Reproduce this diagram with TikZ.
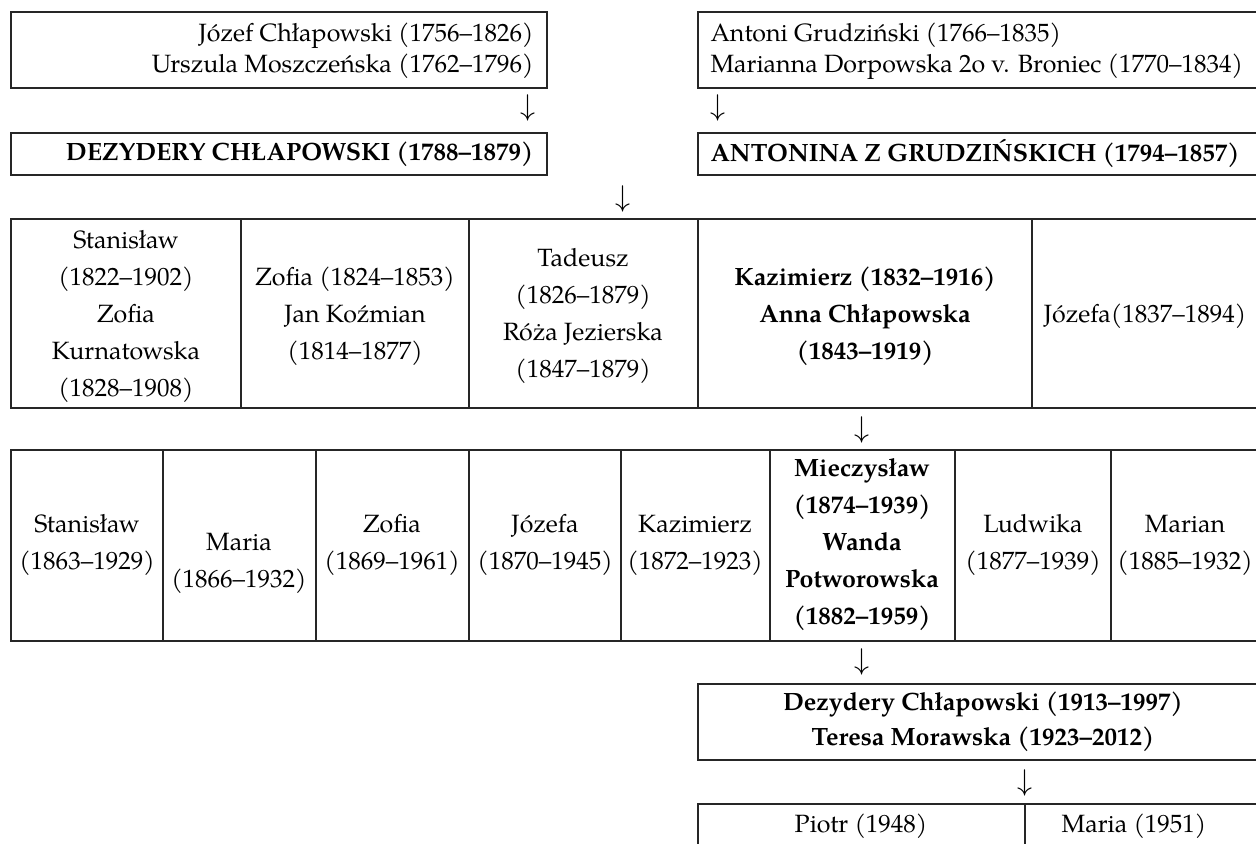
\documentclass[tikz,border=0pt]{standalone}
\usepackage{fontspec}
\setmainfont{texgyrepagella}[Extension=.otf, UprightFont=*-regular, BoldFont=*-bold, ItalicFont=*-italic, BoldItalicFont=*-bolditalic]

\tikzset{
  frame/.style={line width=0.7pt, draw=black!85},
  person/.style={inner sep=0pt, align=center, font=\fontsize{10}{14.8}\selectfont},
  heir/.style={person, font=\fontsize{10}{14.8}\selectfont\bfseries},
  parents/.style={inner sep=0pt, font=\fontsize{10}{12.4}\selectfont},
  down/.style={inner sep=0pt, font=\fontsize{12.5}{12.5}\selectfont}
}

\begin{document}
\begin{tikzpicture}[x=0.4pt,y=-0.4pt]
\useasboundingbox (0,0) rectangle (1256,844);

% grandparents
\draw[frame] (11,12) rectangle (547,88);
\node[parents, align=right, anchor=east] (jozef) at (534,51) {Józef Chłapowski (1756–1826)\\Urszula Moszczeńska (1762–1796)};
\draw[frame] (698,12) rectangle (1258,88);
\node[parents, align=left, anchor=west] (antoni) at (710,51) {Antoni Grudziński (1766–1835)\\Marianna Dorpowska 2o v. Broniec (1770–1834)};

\node[down] (d1) at (528,108) {$\downarrow$};
\node[down] (d2) at (718,108) {$\downarrow$};

% the couple
\draw[frame] (11,133) rectangle (547,175);
\node[parents, font=\fontsize{10}{12.4}\selectfont\bfseries, anchor=east] (dezydery) at (534,154) {DEZYDERY CHŁAPOWSKI (1788–1879)};
\draw[frame] (698,133) rectangle (1258,175);
\node[parents, font=\fontsize{10}{12.4}\selectfont\bfseries, anchor=west] (antonina) at (710,154) {ANTONINA Z GRUDZIŃSKICH (1794–1857)};

\node[down] (d3) at (623,199) {$\downarrow$};

% children
\draw[frame] (11,219) rectangle (1258,408);
\foreach \x in {241,469,698,1032}
  \draw[frame] (\x,219) -- (\x,408);
\node[person] (stanislaw) at (126,316) {Stanisław\\(1822–1902)\\Zofia\\Kurnatowska\\(1828–1908)};
\node[person] (zofia) at (355,316) {Zofia (1824–1853)\\Jan Koźmian\\(1814–1877)};
\node[person] (tadeusz) at (583,316) {Tadeusz\\(1826–1879)\\Róża Jezierska\\(1847–1879)};
\node[heir] (kazimierz) at (865,316) {Kazimierz (1832–1916)\\Anna Chłapowska\\(1843–1919)};
\node[person] (jozefa) at (1145,316) {Józefa(1837–1894)};

\node[down] (d4) at (862,430) {$\downarrow$};

% grandchildren
\draw[frame] (11,450) rectangle (1258,641);
\foreach \x in {163,316,469,621,770,955,1111}
  \draw[frame] (\x,450) -- (\x,641);
\node[person] (stanislaw2) at (87,545) {Stanisław\\(1863–1929)};
\node[person] (maria) at (239,563) {Maria\\(1866–1932)};
\node[person] (zofia2) at (392,545) {Zofia\\(1869–1961)};
\node[person] (jozefa2) at (545,545) {Józefa\\(1870–1945)};
\node[person] (kazimierz2) at (695,545) {Kazimierz\\(1872–1923)};
\node[heir] (mieczyslaw) at (862,545) {Mieczysław\\(1874–1939)\\Wanda\\Potworowska\\(1882–1959)};
\node[person] (ludwika) at (1033,545) {Ludwika\\(1877–1939)};
\node[person] (marian) at (1185,545) {Marian\\(1885–1932)};

\node[down] (d5) at (862,662) {$\downarrow$};

\draw[frame] (698,684) rectangle (1258,760);
\node[heir, font=\fontsize{10}{14}\selectfont\bfseries] (dezydery2) at (983,722) {Dezydery Chłapowski (1913–1997)\\Teresa Morawska (1923–2012)};

\node[down] (d6) at (1025,783) {$\downarrow$};

% great-grandchildren, cut at the page foot
\draw[frame] (698,804) rectangle (1258,870);
\draw[frame] (1025,804) -- (1025,870);
\node[person] (piotr) at (861,826) {Piotr (1948)};
\node[person] (maria2) at (1134,826) {Maria (1951)};
\end{tikzpicture}
\end{document}
